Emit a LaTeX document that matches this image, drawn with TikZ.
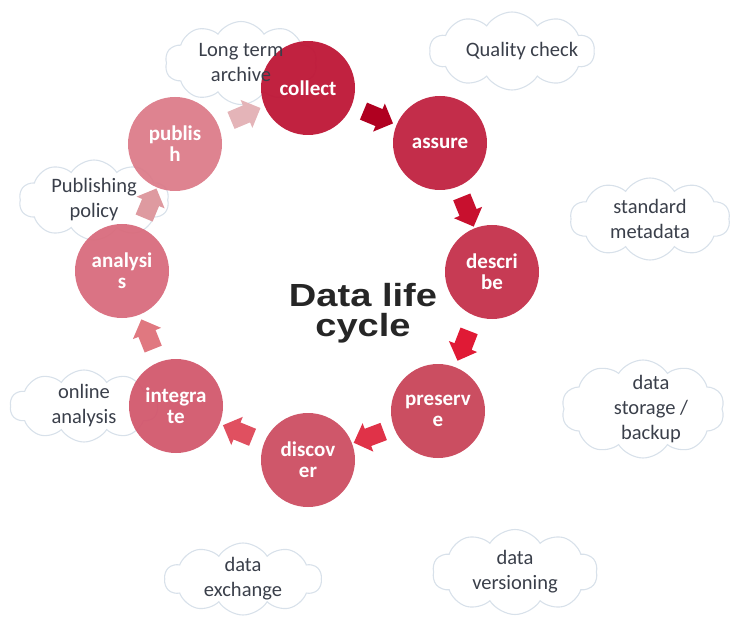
\documentclass[tikz,border=0pt]{standalone}
\usepackage{fontspec}
\setmainfont{Carlito}
\newfontfamily\titlefont[FakeStretch=1.19]{Liberation Sans}
\usepackage{tikz}
\usetikzlibrary{shapes.symbols, shapes.arrows}
\definecolor{cCollect}{HTML}{BE1636}
\definecolor{cAssure}{HTML}{C02240}
\definecolor{cDescribe}{HTML}{C4304B}
\definecolor{cPreserve}{HTML}{C84459}
\definecolor{cDiscover}{HTML}{CC4E62}
\definecolor{cIntegrate}{HTML}{D2586D}
\definecolor{cAnalysis}{HTML}{D86C7D}
\definecolor{cPublish}{HTML}{DC7C8A}
\definecolor{aOne}{HTML}{B00020}
\definecolor{aTwo}{HTML}{C8102E}
\definecolor{aThree}{HTML}{E01A35}
\definecolor{aFour}{HTML}{E03248}
\definecolor{aFive}{HTML}{E05060}
\definecolor{aSix}{HTML}{E07880}
\definecolor{aSeven}{HTML}{DE9AA0}
\definecolor{aEight}{HTML}{E4B4B8}
\definecolor{cloudline}{HTML}{D8E1EA}
\definecolor{notegray}{HTML}{3A3F4A}
\definecolor{titlegray}{HTML}{262626}
\tikzstyle{stage} = [circle, minimum size=94pt, inner sep=0pt, text=white, align=center, fill opacity=0.95, text opacity=1, font=\bfseries\fontsize{21}{21}\selectfont]
\tikzstyle{note} = [cloud, cloud puffs=10, cloud puff arc=115, cloud ignores aspect, draw=cloudline, line width=1.1pt]
\tikzstyle{notetext} = [text=notegray, align=center, font=\fontsize{20.5}{25}\selectfont]
\tikzstyle{blockarrow} = [single arrow, minimum height=32pt, text height=9pt, text depth=9pt, single arrow head extend=6pt, inner sep=0pt, sloped, allow upside down]

\begin{document}
\begin{tikzpicture}[x=1pt, y=-1pt]
    \useasboundingbox (0,0) rectangle (730,617);
    %说明用的云朵
    \node (archive) [note, minimum width=152pt, minimum height=83pt] at (241,63) {};
    \node (quality) [note, minimum width=165pt, minimum height=78pt] at (512,51) {};
    \node (metadata) [note, minimum width=160pt, minimum height=82pt] at (650,219) {};
    \node (storage) [note, minimum width=163pt, minimum height=98pt] at (643,409) {};
    \node (versioning) [note, minimum width=165pt, minimum height=85pt] at (515,572) {};
    \node (exchange) [note, minimum width=157pt, minimum height=72pt] at (243,579) {};
    \node (online) [note, minimum width=148pt, minimum height=72pt] at (84,406) {};
    \node (policy) [note, minimum width=150pt, minimum height=80pt] at (94,200) {};

    %生命周期各阶段
    \node (collect) [stage, fill=cCollect] at (308,88) {collect};
    \node (assure) [stage, fill=cAssure] at (440,143) {assure};
    \node (describe) [stage, fill=cDescribe] at (492,272) {descri\\be};
    \node (preserve) [stage, fill=cPreserve] at (438,411) {preserv\\e};
    \node (discover) [stage, fill=cDiscover] at (308,460) {discov\\er};
    \node (integrate) [stage, fill=cIntegrate] at (176,406) {integra\\te};
    \node (analysis) [stage, fill=cAnalysis] at (122,271) {analysi\\s};
    \node (publish) [stage, fill=cPublish] at (175,144) {publis\\h};

    %标题
    \node (title) [text=titlegray, align=center, font=\titlefont\bfseries\fontsize{32}{30}\selectfont] at (363,313) {Data life\\cycle};

    %阶段之间的箭头
    \path (collect) -- node[blockarrow, fill=aOne]{} (assure);
    \path (assure) -- node[blockarrow, fill=aTwo]{} (describe);
    \path (describe) -- node[blockarrow, fill=aThree]{} (preserve);
    \path (preserve) -- node[blockarrow, fill=aFour]{} (discover);
    \path (discover) -- node[blockarrow, fill=aFive]{} (integrate);
    \path (integrate) -- node[blockarrow, fill=aSix]{} (analysis);
    \path (analysis) -- node[blockarrow, fill=aSeven]{} (publish);
    \path (publish) -- node[blockarrow, fill=aEight]{} (collect);

    %云朵里的文字
    \node (archive-t) [notetext] at (archive) {Long term\\archive};
    \node (quality-t) [notetext, xshift=10pt] at (quality) {Quality check};
    \node (metadata-t) [notetext] at (metadata) {standard\\metadata};
    \node (storage-t) [notetext, xshift=8pt] at (storage) {data\\storage /\\backup};
    \node (versioning-t) [notetext] at (versioning) {data\\versioning};
    \node (exchange-t) [notetext] at (exchange) {data\\exchange};
    \node (online-t) [notetext] at (online) {online\\analysis};
    \node (policy-t) [notetext] at (policy) {Publishing\\policy};
\end{tikzpicture}
\end{document}
